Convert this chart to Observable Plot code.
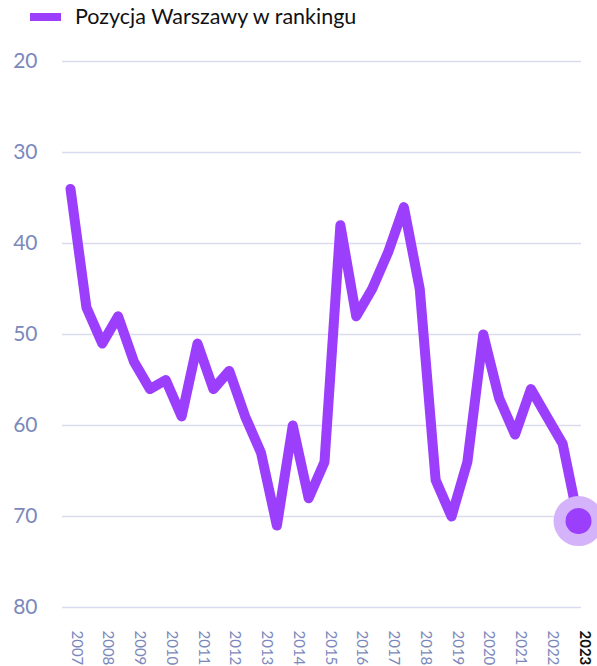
<!DOCTYPE html>
<html>
<head>
<meta charset="utf-8">
<script src="https://cdn.jsdelivr.net/npm/d3@7"></script>
<script src="https://cdn.jsdelivr.net/npm/@observablehq/plot@0.6"></script>
<style>
  html, body { margin: 0; padding: 0; background: #fff; }
  body { width: 597px; height: 666px; overflow: hidden; font-family: Lato, "Open Sans", sans-serif; }
  #legend { height: 40px; position: relative; }
  #legend .sw { position: absolute; left: 30px; top: 13px; width: 31px; height: 8px; background: #9b3ffd; }
  #legend .lb { position: absolute; left: 75px; top: 3px; font-size: 21.5px; color: #111; white-space: nowrap; }
</style>
</head>
<body>
<div id="legend"><div class="sw"></div><div class="lb">Pozycja Warszawy w rankingu</div></div>
<div id="chart"></div>
<script>
// Half-yearly points from 2007 to 2023
const periods = [2007, 2007.5, 2008, 2008.5, 2009, 2009.5, 2010, 2010.5, 2011, 2011.5,
  2012, 2012.5, 2013, 2013.5, 2014, 2014.5, 2015, 2015.5, 2016, 2016.5, 2017, 2017.5,
  2018, 2018.5, 2019, 2019.5, 2020, 2020.5, 2021, 2021.5, 2022, 2022.5, 2023];
const positions = [34, 47, 51, 48, 53, 56, 55, 59, 51, 56, 54, 59, 63, 71, 60, 68, 64,
  38, 48, 45, 41, 36, 45, 66, 70, 64, 50, 57, 61, 56, 59, 62, 70.5];
const yearTicks = [2007, 2008, 2009, 2010, 2011, 2012, 2013, 2014, 2015, 2016, 2017,
  2018, 2019, 2020, 2021, 2022, 2023];
const rankTicks = [20, 30, 40, 50, 60, 70, 80];

const data = periods.map((t, i) => ({t, v: positions[i]}));
const last = data[data.length - 1];

const purple = "#9b3ffd";
const tickColor = "#7b88bb";

const chart = Plot.plot({
  width: 597,
  height: 626,
  marginLeft: 62,
  marginRight: 16,
  marginTop: 21,
  marginBottom: 59,
  style: {fontFamily: "Lato, 'Open Sans', sans-serif", background: "#fff", overflow: "visible"},
  x: {domain: [2006.748, 2023.094], label: null},
  y: {domain: [20, 80], reverse: true, label: null},
  marks: [
    Plot.gridY(rankTicks, {stroke: "#d9dcee", strokeOpacity: 1, strokeWidth: 1.5}),
    Plot.axisY(rankTicks, {tickSize: 0, tickPadding: 25, fontSize: 21, fill: tickColor, label: null}),
    Plot.axisX(yearTicks, {tickSize: 0, tickPadding: 23, tickRotate: 90, fontSize: 15,
      fill: tickColor, tickFormat: d => String(d), dx: 6, textAnchor: "start", label: null}),
    Plot.line(data, {x: "t", y: "v", stroke: purple, strokeWidth: 10,
      strokeLinejoin: "round", strokeLinecap: "round"}),
    Plot.dot([last], {x: "t", y: "v", r: 25, fill: "#d5b3fb"}),
    Plot.dot([last], {x: "t", y: "v", r: 13, fill: purple})
  ]
});
document.getElementById("chart").appendChild(chart);

// Highlight the final year label
d3.select(chart).selectAll("text").filter(function() { return this.textContent === "2023"; })
  .attr("fill", "#111").style("font-weight", "bold");
</script>
</body>
</html>
